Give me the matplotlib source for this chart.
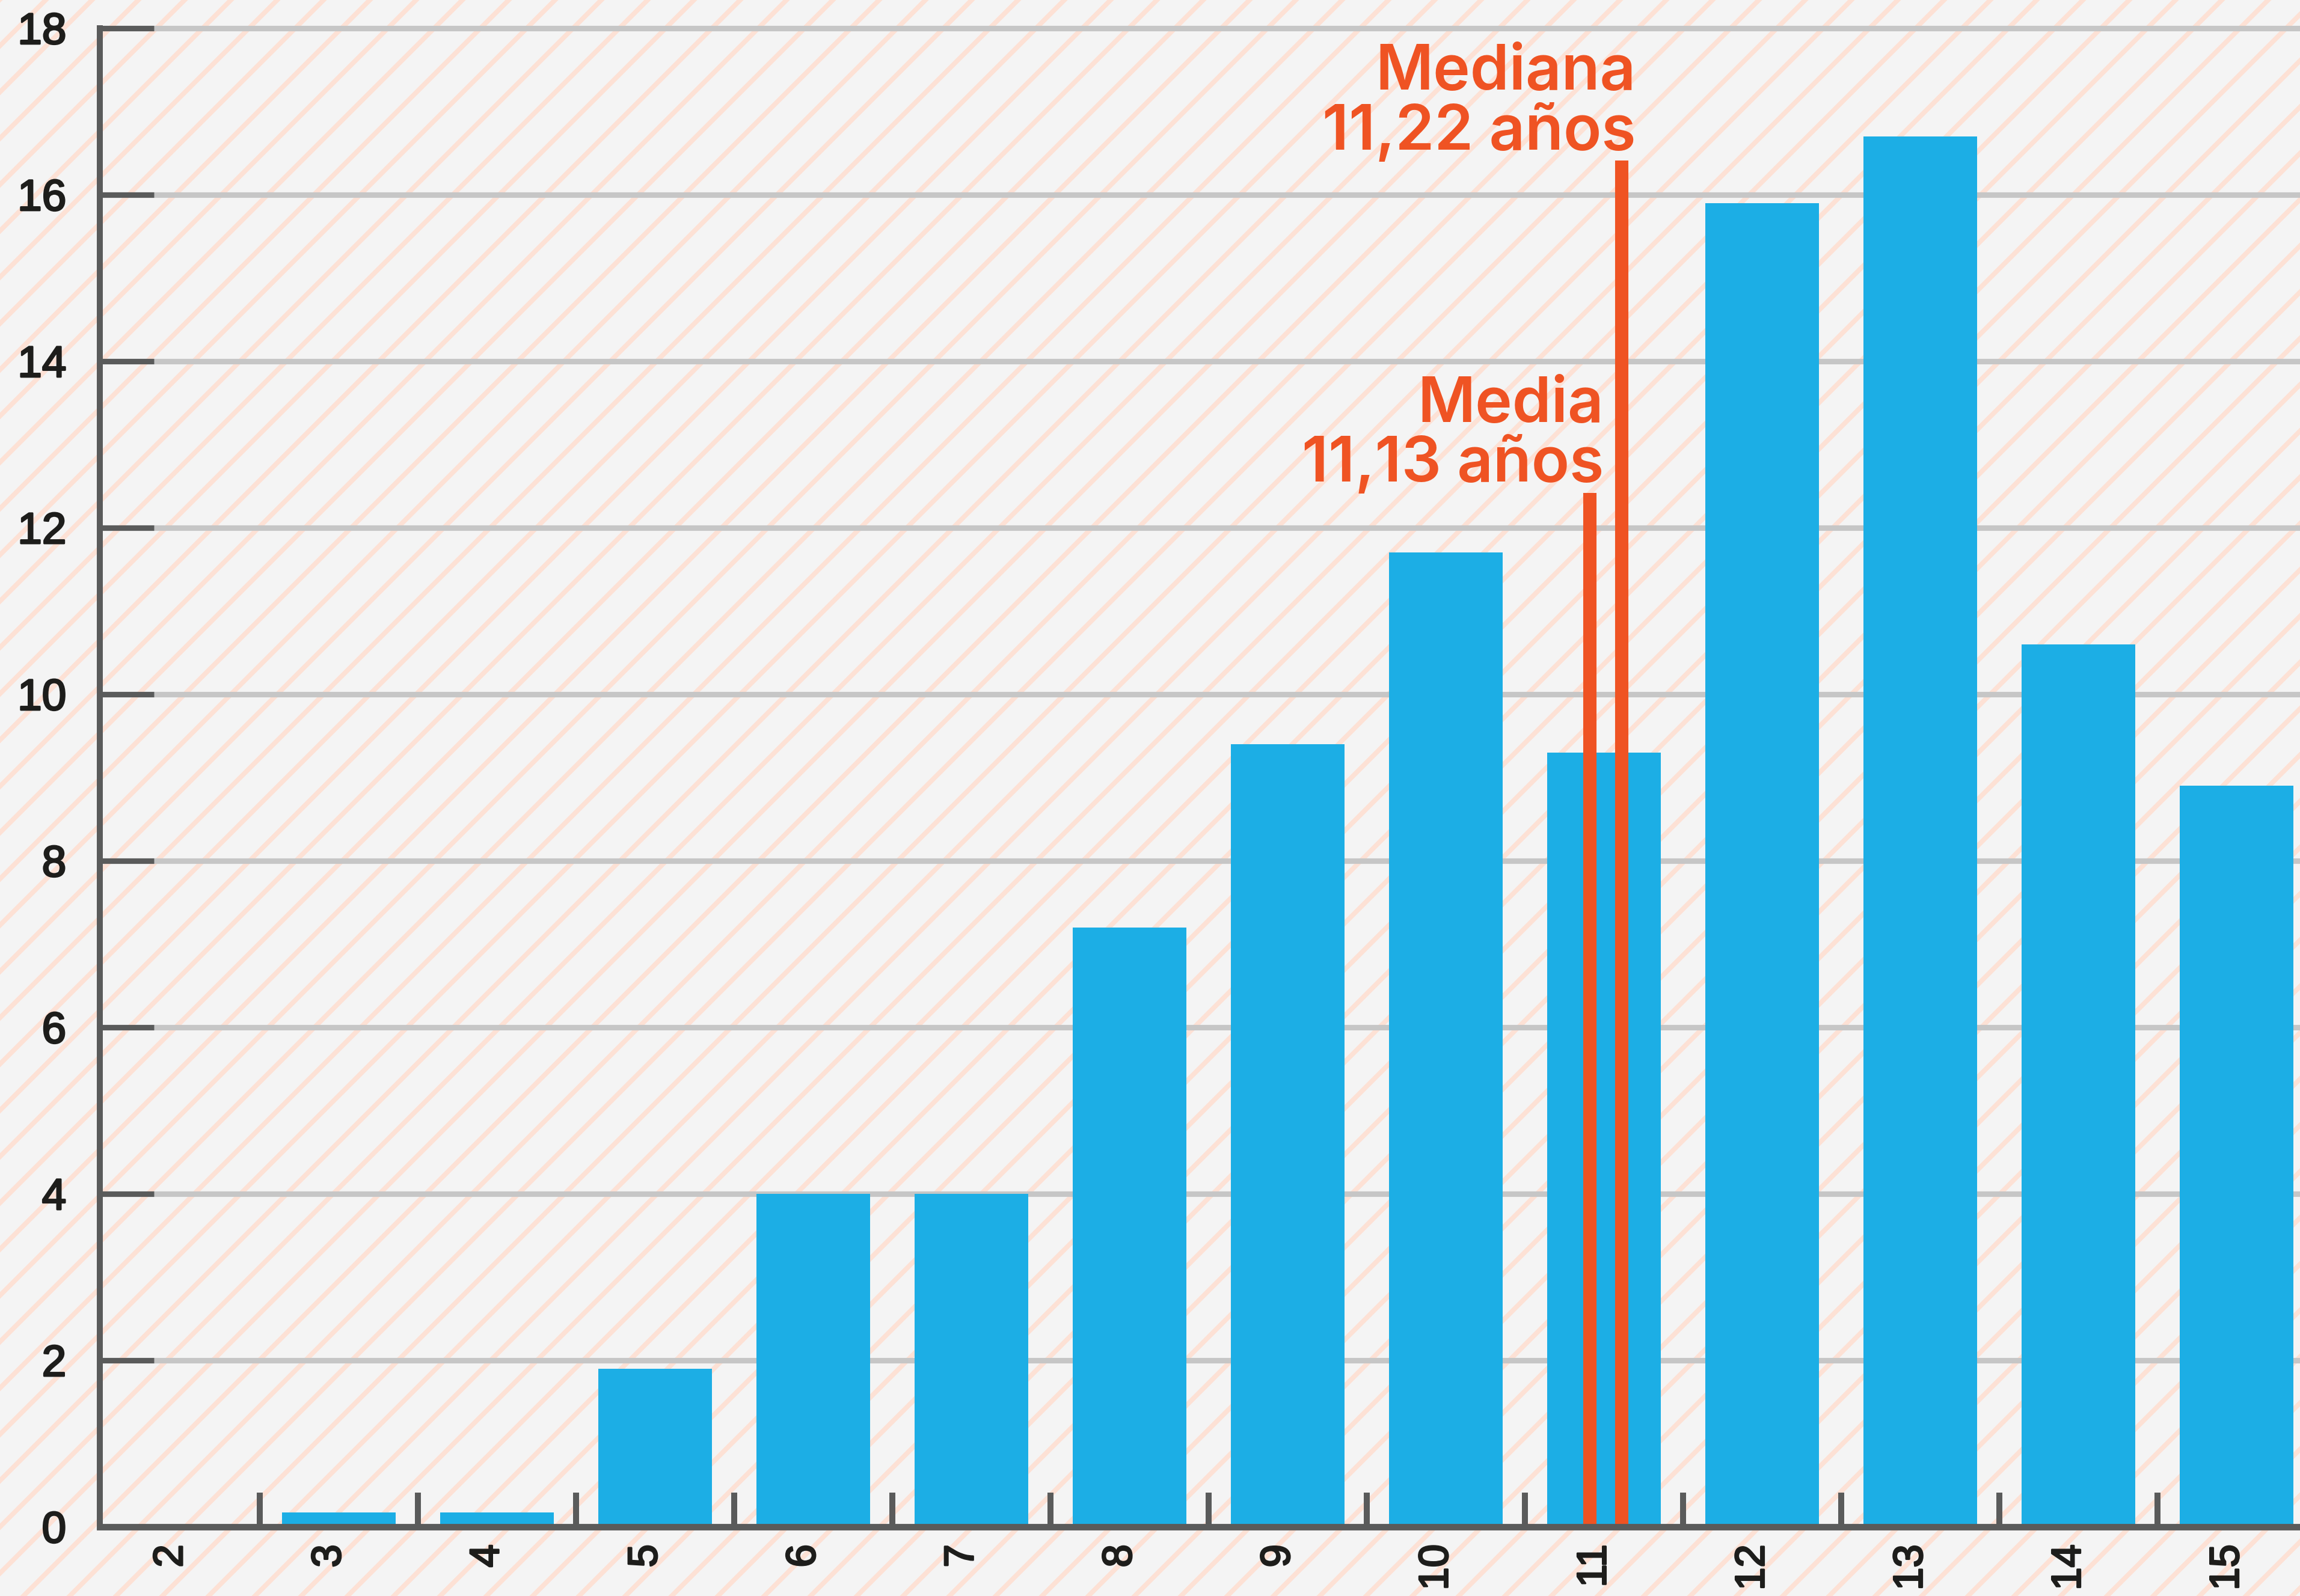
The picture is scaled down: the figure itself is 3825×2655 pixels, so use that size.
import matplotlib.pyplot as plt
from matplotlib.lines import Line2D
from matplotlib.transforms import ScaledTranslation
import matplotlib.patheffects as pe
import numpy as np

# porcentaje por edad
ages = [2, 3, 4, 5, 6, 7, 8, 9, 10, 11, 12, 13, 14, 15]
percent = [0.03, 0.17, 0.17, 1.9, 4.0, 4.0, 7.2, 9.4, 11.7, 9.3, 15.9, 16.7, 10.6, 8.9]
y_ticks = [0, 2, 4, 6, 8, 10, 12, 14, 16, 18]

# lineas de media y mediana
marker_names = ['Media', 'Mediana']
marker_labels = ['11,13 años', '11,22 años']
marker_x = [10.91, 11.11]
marker_top = [12.42, 16.41]

BG = '#f4f4f4'
STRIPE = '#fde1d5'
BLUE = '#1caee5'
ORANGE = '#ef5323'
DARK = '#5a5b5b'
GRID = '#c6c6c6'
TXT = '#1d1d1b'

W, H = 12.75, 8.8533
fig = plt.figure(figsize=(W, H), dpi=300, facecolor=BG)

# fondo rayado
step = 77 / 300
for x0 in np.arange(-H, W + step, step):
    fig.add_artist(Line2D([x0, x0 + H], [0, H], transform=fig.dpi_scale_trans,
                          color=STRIPE, lw=1.9, zorder=-5))

ax = fig.add_axes([0.0434, 0.0433, 1 - 0.0434, 0.995 - 0.0433])
ax.set_facecolor('none')
ax.set_xlim(1.49, 15.40)
ax.set_ylim(0, 18.25)

for y in y_ticks:
    ax.axhline(y, color=GRID, lw=2.2, zorder=1)

ax.bar(ages, percent, width=0.72, color=BLUE, zorder=3)

ax.vlines(marker_x, 0, marker_top, color=ORANGE, lw=5.3, zorder=4)

for name, lab, x, top in zip(marker_names, marker_labels, marker_x, marker_top):
    xr = x + 0.09
    kw = dict(ha='right', va='baseline', color=ORANGE, fontsize=25,
              family=['Inter', 'DejaVu Sans'], fontweight='semibold', zorder=5)
    ax.text(xr, top + 0.14, lab, **kw)
    ax.text(xr, top + 0.86, name, **kw)

for s in ['top', 'right']:
    ax.spines[s].set_visible(False)
ax.spines['left'].set_bounds(0, 18)
ax.spines['left'].set_color(DARK)
ax.spines['left'].set_linewidth(2.4)
ax.spines['bottom'].set_color(DARK)
ax.spines['bottom'].set_linewidth(2.6)
ax.spines['left'].set_zorder(6)
ax.spines['bottom'].set_zorder(6)

ax.set_yticks(y_ticks)
ax.set_yticklabels([str(v) for v in y_ticks])
ax.tick_params(axis='y', direction='in', length=21.6, width=2.2, color=DARK,
               pad=13.4, labelsize=17.5, labelcolor=TXT)

ax.set_xticks(ages)
ax.set_xticklabels([str(a) for a in ages], rotation=90)
ax.tick_params(axis='x', which='major', length=0, pad=7, labelsize=16.5,
               labelcolor=TXT)
ax.set_xticks([a + 0.5 for a in ages[:-1]], minor=True)
ax.tick_params(axis='x', which='minor', direction='in', length=13.7, width=2.4,
               color=DARK)

shift = ScaledTranslation(-0.05, 0, fig.dpi_scale_trans)
for lab in ax.get_xticklabels():
    lab.set_transform(lab.get_transform() + shift)

for lab in ax.get_xticklabels() + ax.get_yticklabels():
    lab.set_family(['Liberation Sans', 'DejaVu Sans'])
    lab.set_path_effects([pe.withStroke(linewidth=0.7, foreground=TXT)])

fig.savefig('out.png', dpi=300, facecolor=BG)
